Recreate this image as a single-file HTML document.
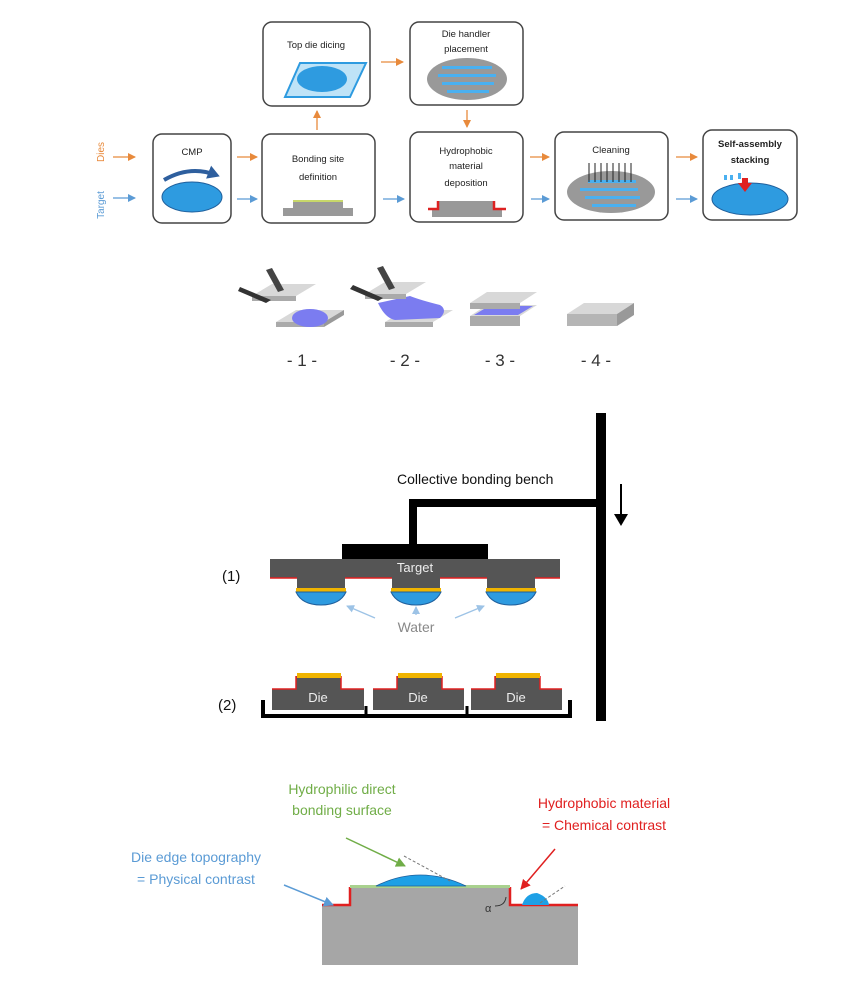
<!DOCTYPE html>
<html><head><meta charset="utf-8"><style>
html,body{margin:0;padding:0;background:#fff;}
svg{display:block;font-family:"Liberation Sans",sans-serif;}
</style></head><body>
<svg width="846" height="983" viewBox="0 0 846 983" xmlns="http://www.w3.org/2000/svg">
<defs>
<marker id="ao" markerUnits="userSpaceOnUse" markerWidth="8" markerHeight="8" refX="7" refY="4" orient="auto"><path d="M0,0 L8,4 L0,8z" fill="#e88a3c"/></marker>
<marker id="ab" markerUnits="userSpaceOnUse" markerWidth="8" markerHeight="8" refX="7" refY="4" orient="auto"><path d="M0,0 L8,4 L0,8z" fill="#5b9bd5"/></marker>
<marker id="ad" markerUnits="userSpaceOnUse" markerWidth="12" markerHeight="14" refX="8" refY="7" orient="auto"><path d="M0,0 L12,7 L0,14z" fill="#2e5f9e"/></marker>
<marker id="al" markerUnits="userSpaceOnUse" markerWidth="8" markerHeight="8" refX="7" refY="4" orient="auto"><path d="M0,0 L8,4 L0,8z" fill="#9dc3e6"/></marker>
<marker id="ag" markerUnits="userSpaceOnUse" markerWidth="10" markerHeight="10" refX="9" refY="5" orient="auto"><path d="M0,0 L10,5 L0,10z" fill="#70ad47"/></marker>
<marker id="ar" markerUnits="userSpaceOnUse" markerWidth="10" markerHeight="10" refX="9" refY="5" orient="auto"><path d="M0,0 L10,5 L0,10z" fill="#e02020"/></marker>
<marker id="abl" markerUnits="userSpaceOnUse" markerWidth="10" markerHeight="10" refX="9" refY="5" orient="auto"><path d="M0,0 L10,5 L0,10z" fill="#5b9bd5"/></marker>
<marker id="ak" markerUnits="userSpaceOnUse" markerWidth="12" markerHeight="14" refX="10" refY="7" orient="auto"><path d="M0,0 L12,7 L0,14z" fill="#000"/></marker>
</defs>

<!-- Top flow -->
<text transform="translate(104,152) rotate(-90)" font-size="10" fill="#e88a3c" text-anchor="middle">Dies</text>
<text transform="translate(104,205) rotate(-90)" font-size="10" fill="#5b9bd5" text-anchor="middle">Target</text>
<g stroke-width="1.3" fill="none">
<line x1="113" y1="157" x2="135" y2="157" stroke="#e88a3c" marker-end="url(#ao)"/>
<line x1="113" y1="198" x2="135" y2="198" stroke="#5b9bd5" marker-end="url(#ab)"/>
<line x1="237" y1="157" x2="257" y2="157" stroke="#e88a3c" marker-end="url(#ao)"/>
<line x1="237" y1="199" x2="257" y2="199" stroke="#5b9bd5" marker-end="url(#ab)"/>
<line x1="317" y1="130" x2="317" y2="111" stroke="#e88a3c" marker-end="url(#ao)"/>
<line x1="381" y1="62" x2="403" y2="62" stroke="#e88a3c" marker-end="url(#ao)"/>
<line x1="467" y1="110" x2="467" y2="127" stroke="#e88a3c" marker-end="url(#ao)"/>
<line x1="383" y1="199" x2="404" y2="199" stroke="#5b9bd5" marker-end="url(#ab)"/>
<line x1="530" y1="157" x2="549" y2="157" stroke="#e88a3c" marker-end="url(#ao)"/>
<line x1="531" y1="199" x2="549" y2="199" stroke="#5b9bd5" marker-end="url(#ab)"/>
<line x1="676" y1="157" x2="697" y2="157" stroke="#e88a3c" marker-end="url(#ao)"/>
<line x1="676" y1="199" x2="697" y2="199" stroke="#5b9bd5" marker-end="url(#ab)"/>
</g>
<g fill="#fff" stroke="#444" stroke-width="1.5">
<rect x="153" y="134" width="78" height="89" rx="9"/>
<rect x="262" y="134" width="113" height="89" rx="9"/>
<rect x="263" y="22" width="107" height="84" rx="9"/>
<rect x="410" y="22" width="113" height="83" rx="9"/>
<rect x="410" y="132" width="113" height="90" rx="9"/>
<rect x="555" y="132" width="113" height="88" rx="9"/>
<rect x="703" y="130" width="94" height="90" rx="9"/>
</g>
<g font-size="9.5" fill="#222" text-anchor="middle">
<text x="192" y="155">CMP</text>
<text x="318" y="162">Bonding site</text><text x="318" y="180">definition</text>
<text x="316" y="48">Top die dicing</text>
<text x="466" y="37">Die handler</text><text x="466" y="52">placement</text>
<text x="466" y="154">Hydrophobic</text><text x="466" y="169">material</text><text x="466" y="186">deposition</text>
<text x="611" y="153">Cleaning</text>
<text x="750" y="147" font-weight="bold">Self-assembly</text><text x="750" y="163" font-weight="bold">stacking</text>
</g>
<!-- CMP icon -->
<path d="M164,180 Q190,165 216,175" stroke="#2e5f9e" stroke-width="4" fill="none" marker-end="url(#ad)"/>
<ellipse cx="192" cy="197" rx="30" ry="15" fill="#2e9be0" stroke="#1f5f9c"/>
<!-- bonding icon -->
<rect x="283" y="208" width="70" height="8" fill="#999"/><rect x="293" y="201" width="50" height="7" fill="#999"/><rect x="293" y="200" width="50" height="2" fill="#c8d86a"/>
<!-- dicing -->
<polygon points="285,97 350,97 366,63 300,63" fill="#bfe3f7" stroke="#2e9be0" stroke-width="2"/>
<ellipse cx="322" cy="79" rx="25" ry="13" fill="#2e9be0"/>
<!-- die handler -->
<ellipse cx="467" cy="79" rx="40" ry="21" fill="#999"/>
<g fill="#4ab0f0"><rect x="442" y="66" width="50" height="3"/><rect x="438" y="74" width="58" height="3"/><rect x="442" y="82" width="52" height="3"/><rect x="447" y="90" width="42" height="3"/></g>
<!-- hydrophobic -->
<rect x="432" y="209" width="70" height="8" fill="#999"/><rect x="438" y="201" width="56" height="8" fill="#999"/>
<path d="M428,209 L438,209 L438,201" stroke="#d22" stroke-width="2.5" fill="none"/><path d="M506,209 L494,209 L494,201" stroke="#d22" stroke-width="2.5" fill="none"/>
<!-- cleaning -->
<ellipse cx="611" cy="192" rx="44" ry="21" fill="#999"/>
<g fill="#4ab0f0"><rect x="588" y="180" width="48" height="3"/><rect x="580" y="188" width="58" height="3"/><rect x="585" y="196" width="55" height="3"/><rect x="592" y="204" width="44" height="3"/></g>
<g stroke="#222" stroke-width="1"><line x1="589" y1="163" x2="589" y2="182"/><line x1="595" y1="163" x2="595" y2="182"/><line x1="601" y1="163" x2="601" y2="182"/><line x1="607" y1="163" x2="607" y2="182"/><line x1="613" y1="163" x2="613" y2="182"/><line x1="619" y1="163" x2="619" y2="182"/><line x1="625" y1="163" x2="625" y2="182"/><line x1="631" y1="163" x2="631" y2="182"/></g>
<!-- self assembly -->
<ellipse cx="750" cy="199" rx="38" ry="16" fill="#2e9be0" stroke="#1f5f9c"/>
<g fill="#4ab0f0"><rect x="724" y="175" width="3" height="5"/><rect x="730" y="175" width="3" height="5"/><rect x="738" y="173" width="3" height="6"/></g>
<path d="M742,178 L748,178 L748,183 L752,183 L745,192 L738,183 L742,183z" fill="#e02020"/>

<!-- Middle 4 steps -->
<g>
<polygon points="276,322 324,322 344,310 296,310" fill="#d8d8d8"/><rect x="276" y="322" width="48" height="5" fill="#aaa"/><polygon points="324,322 344,310 344,315 324,327" fill="#999"/>
<ellipse cx="310" cy="318" rx="18" ry="9" fill="#7b7cf0"/>
<polygon points="252,296 296,296 316,284 272,284" fill="#d8d8d8"/><rect x="252" y="296" width="44" height="5" fill="#aaa"/>
<polygon points="240,287 271,300 266,303 238,291" fill="#333"/><polygon points="272,268 284,290 278,292 266,270" fill="#444"/>
<polygon points="385,322 433,322 453,310 405,310" fill="#d8d8d8"/><rect x="385" y="322" width="48" height="5" fill="#aaa"/>
<path d="M378,303 Q385,318 395,320 L440,318 Q448,310 440,305 Q420,300 410,296z" fill="#7b7cf0"/>
<polygon points="365,294 406,294 426,282 385,282" fill="#d8d8d8"/><rect x="365" y="294" width="41" height="5" fill="#aaa"/>
<polygon points="353,285 383,298 378,301 350,289" fill="#333"/><polygon points="383,266 395,288 389,290 377,268" fill="#444"/>
<polygon points="470,316 520,316 537,305 487,305" fill="#d8d8d8"/><rect x="470" y="316" width="50" height="10" fill="#aaa"/>
<polygon points="474,315 518,315 533,306 489,306" fill="#7b7cf0"/>
<polygon points="470,303 520,303 537,292 487,292" fill="#d8d8d8"/><rect x="470" y="303" width="50" height="6" fill="#aaa"/>
<polygon points="567,314 617,314 634,303 584,303" fill="#d8d8d8"/><rect x="567" y="314" width="50" height="12" fill="#b5b5b5"/><polygon points="617,314 634,303 634,315 617,326" fill="#999"/>
</g>
<g font-size="17" fill="#333" text-anchor="middle">
<text x="302" y="366">- 1 -</text><text x="405" y="366">- 2 -</text><text x="500" y="366">- 3 -</text><text x="596" y="366">- 4 -</text>
</g>

<!-- Bench -->
<rect x="596" y="413" width="10" height="308" fill="#000"/>
<rect x="409" y="499" width="190" height="8" fill="#000"/>
<rect x="409" y="499" width="8" height="50" fill="#000"/>
<rect x="342" y="544" width="146" height="16" fill="#000"/>
<line x1="621" y1="484" x2="621" y2="524" stroke="#000" stroke-width="2" marker-end="url(#ak)"/>
<text x="397" y="484" font-size="14" fill="#111">Collective bonding bench</text>
<text x="222" y="581" font-size="15" fill="#111">(1)</text>
<rect x="270" y="559" width="290" height="19" fill="#555"/>
<path d="M270,578 L297,578 M345,578 L392,578 M440,578 L487,578 M535,578 L560,578" stroke="#e02020" stroke-width="1.5"/>
<g>
<rect x="297" y="578" width="48" height="13" fill="#555"/><rect x="392" y="578" width="48" height="13" fill="#555"/><rect x="487" y="578" width="48" height="13" fill="#555"/>
<rect x="296" y="588" width="50" height="4" fill="#f0b400"/><rect x="391" y="588" width="50" height="4" fill="#f0b400"/><rect x="486" y="588" width="50" height="4" fill="#f0b400"/>
<path d="M296,592 L346,592 Q340,605 321,605 Q302,605 296,592z" fill="#2e9be0" stroke="#1f5f9c"/>
<path d="M391,592 L441,592 Q435,605 416,605 Q397,605 391,592z" fill="#2e9be0" stroke="#1f5f9c"/>
<path d="M486,592 L536,592 Q530,605 511,605 Q492,605 486,592z" fill="#2e9be0" stroke="#1f5f9c"/>
</g>
<text x="415" y="572" font-size="13" fill="#eee" text-anchor="middle">Target</text>
<g stroke="#9dc3e6" stroke-width="1.3"><line x1="375" y1="618" x2="347" y2="606" marker-end="url(#al)"/><line x1="416" y1="615" x2="416" y2="607" marker-end="url(#al)"/><line x1="455" y1="618" x2="484" y2="606" marker-end="url(#al)"/></g>
<text x="416" y="632" font-size="14" fill="#888" text-anchor="middle">Water</text>
<text x="218" y="710" font-size="15" fill="#111">(2)</text>
<path d="M263,700 L263,716 L570,716 L570,700" stroke="#000" stroke-width="4" fill="none"/>
<path d="M366,706 L366,716 M467,706 L467,716" stroke="#000" stroke-width="3"/>
<g fill="#555">
<path d="M272,710 L272,689 L296,689 L296,676 L341,676 L341,689 L364,689 L364,710z"/>
<path d="M373,710 L373,689 L397,689 L397,676 L442,676 L442,689 L464,689 L464,710z"/>
<path d="M471,710 L471,689 L495,689 L495,676 L540,676 L540,689 L562,689 L562,710z"/>
</g>
<g stroke="#e02020" stroke-width="1.5" fill="none">
<path d="M272,689 L296,689 L296,676 M341,676 L341,689 L364,689"/>
<path d="M373,689 L397,689 L397,676 M442,676 L442,689 L464,689"/>
<path d="M471,689 L495,689 L495,676 M540,676 L540,689 L562,689"/>
</g>
<g fill="#f0b400"><rect x="297" y="673" width="44" height="5"/><rect x="398" y="673" width="44" height="5"/><rect x="496" y="673" width="44" height="5"/></g>
<g font-size="13" fill="#eee" text-anchor="middle"><text x="318" y="702">Die</text><text x="418" y="702">Die</text><text x="516" y="702">Die</text></g>

<!-- Bottom -->
<rect x="322" y="905" width="256" height="60" fill="#a6a6a6"/>
<rect x="350" y="887" width="160" height="20" fill="#a6a6a6"/>
<path d="M322,905 L350,905 L350,887 M510,887 L510,905 L578,905" stroke="#e02020" stroke-width="2.5" fill="none"/>
<rect x="350" y="885" width="160" height="3" fill="#a9d18e"/>
<path d="M376,886 Q420,864 466,886z" fill="#1ea0e6" stroke="#1f5f9c" stroke-width="0.8"/>
<path d="M522,905 Q526,893 537,893 Q548,897 549,905z" fill="#1ea0e6"/>
<line x1="404" y1="856" x2="450" y2="881" stroke="#777" stroke-dasharray="3,2"/>
<line x1="540" y1="903" x2="565" y2="886" stroke="#777" stroke-dasharray="3,2"/>
<path d="M495,906 Q505,906 506,897" stroke="#333" fill="none"/>
<text x="485" y="912" font-size="11" fill="#333">α</text>
<line x1="346" y1="838" x2="405" y2="866" stroke="#70ad47" stroke-width="1.5" marker-end="url(#ag)"/>
<line x1="555" y1="849" x2="521" y2="889" stroke="#e02020" stroke-width="1.5" marker-end="url(#ar)"/>
<line x1="284" y1="885" x2="333" y2="905" stroke="#5b9bd5" stroke-width="1.5" marker-end="url(#abl)"/>
<g font-size="14" text-anchor="middle">
<text x="342" y="794" fill="#70ad47">Hydrophilic direct</text><text x="342" y="815" fill="#70ad47">bonding surface</text>
<text x="604" y="808" fill="#e02020">Hydrophobic material</text><text x="604" y="830" fill="#e02020">= Chemical contrast</text>
<text x="196" y="862" fill="#5b9bd5">Die edge topography</text><text x="196" y="884" fill="#5b9bd5">= Physical contrast</text>
</g>
</svg>
</body></html>
